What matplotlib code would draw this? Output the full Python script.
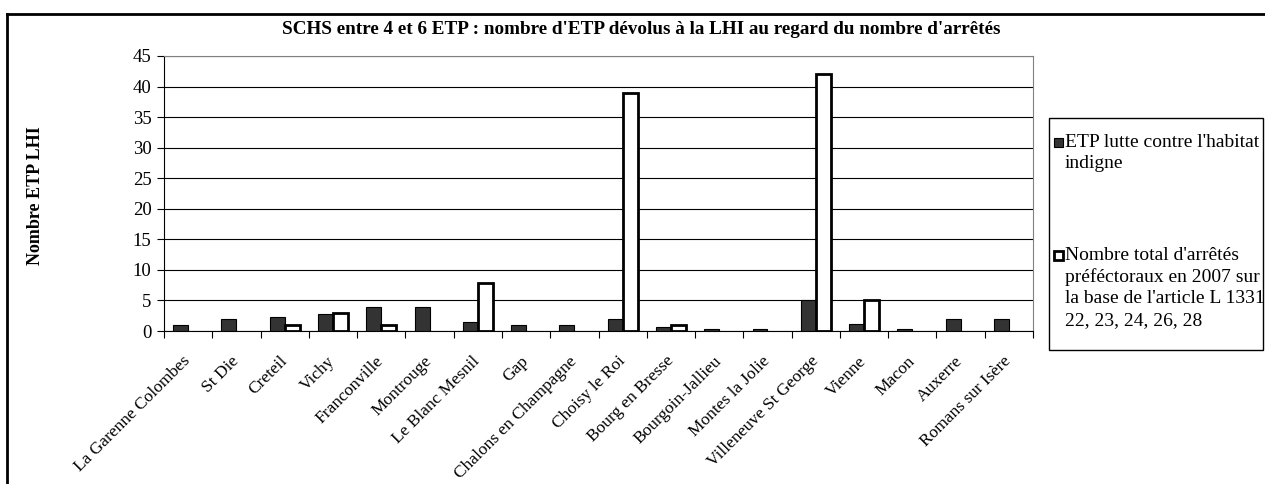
import numpy as np
import matplotlib.pyplot as plt
from matplotlib.patches import Rectangle
from matplotlib.lines import Line2D
from matplotlib.transforms import ScaledTranslation

plt.rcParams['font.family'] = ['Liberation Serif', 'DejaVu Serif']

# data
communes = ["La Garenne Colombes", "St Die", "Creteil", "Vichy", "Franconville",
            "Montrouge", "Le Blanc Mesnil", "Gap", "Chalons en Champagne",
            "Choisy le Roi", "Bourg en Bresse", "Bourgoin-Jallieu", "Montes la Jolie",
            "Villeneuve St George", "Vienne", "Macon", "Auxerre", "Romans sur Isère"]
etp_lhi = [1, 2, 2.3, 2.8, 4, 4, 1.5, 1, 1, 2, 0.7, 0.3, 0.3, 5, 1.2, 0.4, 2, 2]
arretes = [0, 0, 1, 3, 1, 0, 7.8, 0, 0, 39, 1, 0, 0, 42, 5, 0, 0, 0]
yticks = [0, 5, 10, 15, 20, 25, 30, 35, 40, 45]

title = "SCHS entre 4 et 6 ETP : nombre d'ETP dévolus à la LHI au regard du nombre d'arrêtés"
ylabel = "Nombre ETP LHI"
legend_labels = ["ETP lutte contre l'habitat\nindigne",
                 "Nombre total d'arrêtés\npréféctoraux en 2007 sur\nla base de l'article L 1331\n22, 23, 24, 26, 28"]

W, H = 1265, 484
fig = plt.figure(figsize=(W / 100, H / 100), dpi=100)
ax = fig.add_axes([164 / W, 1 - 331 / H, (1033 - 164) / W, (331 - 56) / H])

x = np.arange(len(communes))
w = 0.31
ax.bar(x - w / 2, etp_lhi, w, color='#333333', edgecolor='black',
       linewidth=[0.8 if v > 0 else 0 for v in etp_lhi], zorder=3)
ax.bar(x + w / 2, arretes, w, color='white', edgecolor='black',
       linewidth=[2.0 if v > 0 else 0 for v in arretes], zorder=3)

ax.set_xlim(-0.5, len(communes) - 0.5)
ax.set_ylim(0, 45)
ax.set_yticks(yticks)
ax.yaxis.grid(True, color='black', linewidth=0.8, zorder=0)
ax.set_axisbelow(True)

ax.set_xticks(x)
ax.set_xticklabels(communes, rotation=45, ha='right', va='center',
                   rotation_mode='anchor', fontsize=12.5)
# shift the rotated labels a bit to the left, like the original
shift = ScaledTranslation(-0.05, 0, fig.dpi_scale_trans)
for lab in ax.get_xticklabels():
    lab.set_transform(lab.get_transform() + shift)
ax.set_xticks(np.arange(len(communes) + 1) - 0.5, minor=True)
ax.tick_params(axis='x', which='major', length=0, pad=20)
ax.tick_params(axis='x', which='minor', length=5, width=0.8)
ax.tick_params(axis='y', length=5, width=0.8, labelsize=13.5, pad=4)

for s in ['top', 'right']:
    ax.spines[s].set_color('#808080')
    ax.spines[s].set_linewidth(0.8)
for s in ['left', 'bottom']:
    ax.spines[s].set_color('black')
    ax.spines[s].set_linewidth(0.8)

fig.text(641 / W, 1 - 30 / H, title, ha='center', va='center', fontsize=13.8, fontweight='bold')
fig.text(36 / W, 1 - 196 / H, ylabel, ha='center', va='center', rotation=90,
         fontsize=13, fontweight='bold')

# outer border of the chart
fig.add_artist(Line2D([7 / W, 1.0], [1 - 14 / H, 1 - 14 / H], color='black', linewidth=2,
                      transform=fig.transFigure))
fig.add_artist(Line2D([7 / W, 7 / W], [0, 1 - 14 / H], color='black', linewidth=2,
                      transform=fig.transFigure))

# legend box
fig.add_artist(Rectangle((1049 / W, 1 - 350 / H), (1263 - 1049) / W, (350 - 118) / H,
                         transform=fig.transFigure, facecolor='white', edgecolor='black',
                         linewidth=1.0))
leg_y = [143, 256]
leg_face = ['#333333', 'white']
leg_lw = [0.8, 2.0]
for yy, lab, fc, lw in zip(leg_y, legend_labels, leg_face, leg_lw):
    fig.add_artist(Rectangle((1054 / W, 1 - (yy + 4) / H), 9 / W, 9 / H,
                             transform=fig.transFigure, facecolor=fc, edgecolor='black',
                             linewidth=lw))
    fig.text(1065 / W, 1 - (yy - 9) / H, lab, ha='left', va='top', fontsize=14,
             linespacing=1.32)

fig.savefig('out.png', dpi=100)
